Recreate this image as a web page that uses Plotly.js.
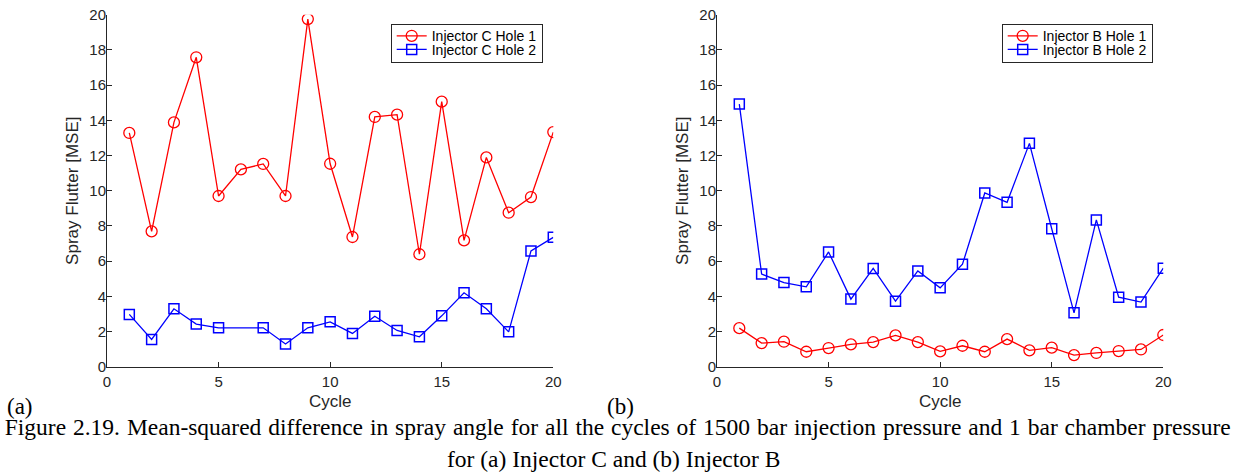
<!DOCTYPE html>
<html>
<head>
<meta charset="utf-8">
<script src="https://cdn.plot.ly/plotly-3.0.1.min.js"></script>
<style>
html,body{margin:0;padding:0;background:#fff;}
#chart{width:1237px;height:476px;}
</style>
</head>
<body>
<div id="chart"></div>
<script>
// ---- Data ----
const cycles = [1,2,3,4,5,6,7,8,9,10,11,12,13,14,15,16,17,18,19,20];
// Panel (a): Injector C
const injCHole1 = [13.28,7.69,13.88,17.58,9.70,11.21,11.52,9.70,19.75,11.53,7.37,14.19,14.32,6.39,15.06,7.18,11.89,8.75,9.64,13.33];
const injCHole2Cycles = [1,2,3,4,5,7,8,9,10,11,12,13,14,15,16,17,18,19,20];
const injCHole2 = [2.97,1.55,3.29,2.42,2.21,2.21,1.29,2.21,2.55,1.89,2.87,2.06,1.70,2.89,4.20,3.29,1.98,6.58,7.35];
// Panel (b): Injector B
const injBHole1 = [2.19,1.34,1.42,0.85,1.06,1.27,1.40,1.78,1.40,0.87,1.19,0.85,1.57,0.93,1.08,0.66,0.78,0.89,0.98,1.80];
const injBHole2 = [14.92,5.26,4.78,4.54,6.52,3.84,5.58,3.72,5.44,4.48,5.82,9.87,9.34,12.69,7.84,3.06,8.34,3.95,3.67,5.60];
const seriesNames = ["Injector C Hole 1","Injector C Hole 2","Injector B Hole 1","Injector B Hole 2"];
const xTicks = [0,5,10,15,20];
const yTicks = [0,2,4,6,8,10,12,14,16,18,20];
const xTitle = "Cycle";
const yTitle = "Spray Flutter [MSE]";
const panelLabels = ["(a)", "(b)"];
const captionLine1 = "Figure 2.19. Mean-squared difference in spray angle for all the cycles of 1500 bar injection pressure and 1 bar chamber pressure";
const captionLine2 = "for (a) Injector C and (b) Injector B";

const RED = "#ff0000", BLUE = "#0000ff";
const axisColor = "#262626";
const W = 1237, H = 476;
const SANS = "Liberation Sans, Arial, sans-serif";
const SERIF = "Liberation Serif, Times New Roman, serif";

function redTrace(x, y, name, xa, ya, lg) {
  return {x, y, name, type: "scatter", mode: "lines+markers", xaxis: xa, yaxis: ya, legend: lg,
    line: {color: RED, width: 1.3},
    marker: {symbol: "circle-open", size: 11, color: RED, line: {color: RED, width: 1.3}}};
}
function blueTrace(x, y, name, xa, ya, lg) {
  return {x, y, name, type: "scatter", mode: "lines+markers", xaxis: xa, yaxis: ya, legend: lg,
    line: {color: BLUE, width: 1.3},
    marker: {symbol: "square-open", size: 10, color: BLUE, line: {color: BLUE, width: 1.5}}};
}

const traces = [
  redTrace(cycles, injCHole1, seriesNames[0], "x", "y", "legend"),
  blueTrace(injCHole2Cycles, injCHole2, seriesNames[1], "x", "y", "legend"),
  redTrace(cycles, injBHole1, seriesNames[2], "x2", "y2", "legend2"),
  blueTrace(cycles, injBHole2, seriesNames[3], "x2", "y2", "legend2")
];

const tickFont = {family: SANS, size: 15, color: axisColor};
const titleFont = {family: SANS, size: 17, color: axisColor};
function xAxis(domain, anchor) {
  return {domain, anchor, range: [0, 20], tickvals: xTicks, ticks: "inside", ticklen: 5, tickcolor: axisColor,
    showline: true, linecolor: axisColor, linewidth: 1, showgrid: false, zeroline: false, mirror: false,
    tickfont: tickFont, ticklabelstandoff: 1,
    title: {text: xTitle, font: titleFont, standoff: 6}};
}
function yAxis(domain, anchor) {
  return {domain, anchor, range: [0, 20], tickvals: yTicks, ticks: "inside", ticklen: 5, tickcolor: axisColor,
    showline: true, linecolor: axisColor, linewidth: 1, showgrid: false, zeroline: false, mirror: false,
    tickfont: tickFont, ticklabelstandoff: -3,
    title: {text: yTitle, font: titleFont, standoff: 6}};
}

const yDom = [1 - 366.7 / H, 1 - 14.7 / H];
const legendFont = {family: SANS, size: 14, color: "#000"};
function legendAt(rightPx) {
  return {x: rightPx / W, y: 1 - 24.3 / H, xanchor: "right", yanchor: "top", xref: "paper", yref: "paper",
    bgcolor: "#fff", bordercolor: "#262626", borderwidth: 1, font: legendFont, tracegroupgap: 0, itemwidth: 30};
}
const layout = {
  width: W, height: H,
  margin: {l: 0, r: 0, t: 0, b: 0},
  paper_bgcolor: "#fff", plot_bgcolor: "#fff",
  showlegend: true,
  xaxis: xAxis([107 / W, 553.3 / W], "y"),
  yaxis: yAxis(yDom, "x"),
  xaxis2: xAxis([717 / W, 1163.3 / W], "y2"),
  yaxis2: yAxis(yDom, "x2"),
  legend: legendAt(542.7),
  legend2: legendAt(1152.7),
  annotations: [
    {text: panelLabels[0], x: 5 / W, y: 1 - 406 / H, xref: "paper", yref: "paper", xanchor: "left", yanchor: "middle", showarrow: false,
      font: {family: SERIF, size: 23, color: "#000"}},
    {text: panelLabels[1], x: 605 / W, y: 1 - 406 / H, xref: "paper", yref: "paper", xanchor: "left", yanchor: "middle", showarrow: false,
      font: {family: SERIF, size: 23, color: "#000"}},
    {text: captionLine1, x: 617 / W, y: 1 - 427 / H, xref: "paper", yref: "paper", xanchor: "center", yanchor: "middle", showarrow: false,
      font: {family: SERIF, size: 23.5, color: "#000"}},
    {text: captionLine2, x: 613 / W, y: 1 - 459 / H, xref: "paper", yref: "paper", xanchor: "center", yanchor: "middle", showarrow: false,
      font: {family: SERIF, size: 23.5, color: "#000"}}
  ]
};

Plotly.newPlot("chart", traces, layout, {displayModeBar: false, staticPlot: true}).then(function () {
  // The printed caption's first line is justified to the page width: widen its word spacing.
  document.querySelectorAll("#chart .annotation-text").forEach(function (t) {
    if (t.textContent === captionLine1) {
      const target = 1226;
      const len = t.getComputedTextLength();
      const gaps = captionLine1.split(" ").length - 1;
      const extra = (target - len) / gaps;
      if (extra > 0) t.style.wordSpacing = extra + "px";
    }
  });
  // Compact legend rows like the MATLAB legend (rows ~13.6 px apart, box ~38 px tall).
  ["legend", "legend2"].forEach(function (cls) {
    const g = document.querySelector("#chart g." + cls);
    if (!g) return;
    const items = g.querySelectorAll("g.traces");
    items.forEach(function (it, i) {
      const m = /translate\(\s*([-\d.eE]+)[ ,]+([-\d.eE]+)\s*\)/.exec(it.getAttribute("transform") || "");
      if (m) it.setAttribute("transform", "translate(" + m[1] + "," + (11.5 + i * 13.6) + ")");
    });
    const bg = g.querySelector("rect.bg");
    if (bg) bg.setAttribute("height", 38);
  });
});
</script>
</body>
</html>
